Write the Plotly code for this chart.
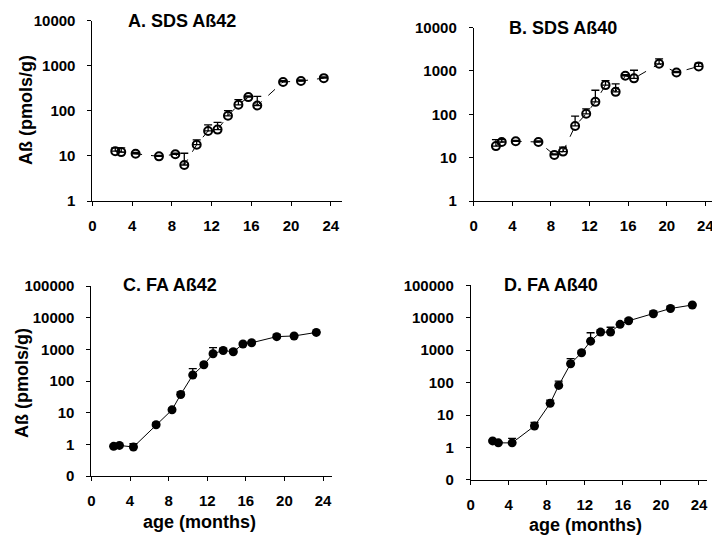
import plotly.graph_objects as go

ages = [2.3, 2.9, 4.35, 6.7, 8.35, 9.25, 10.5, 11.65, 12.6, 13.65, 14.7, 15.7, 16.6, 19.2, 21.0, 23.3]

sds42 = [12.8, 12.2, 11.2, 9.8, 10.9, 6.3, 17.8, 36, 38.5, 78, 137, 203, 132, 440, 461, 535]
sds42_hi = [15.1, 15.1, 12, 10.3, 11.5, 11.5, 22.8, 49, 56, 102, 178, 215, 210, 470, 490, 570]

sds40 = [18.5, 23, 23.9, 23, 11.6, 13.8, 54, 103, 194, 472, 330, 776, 676, 1466, 922, 1277]
sds40_hi = [26, 26, 25, 24.5, 12.2, 17.5, 91, 133, 359, 600, 505, 820, 1040, 1895, 980, 1515]

fa42 = [0.87, 0.93, 0.83, 4.2, 12.4, 38, 156, 331, 736, 931, 849, 1490, 1636, 2557, 2683, 3473]
fa42_hi = [0.95, 1.0, 1.05, 4.8, 14, 45, 250, 380, 1150, 1080, 1000, 1650, 1800, 3000, 2950, 3700]

fa40 = [1.6, 1.39, 1.39, 4.6, 23, 82, 382, 832, 1900, 3600, 3600, 6250, 8040, 13300, 19200, 24700]
fa40_hi = [1.7, 1.5, 1.9, 5.9, 29, 111, 550, 950, 3440, 4240, 5080, 6600, 9440, 16000, 22500, 26000]

x_ticks = [0, 4, 8, 12, 16, 20, 24]
top_yticks = [1, 10, 100, 1000, 10000]
top_ytext = ["1", "10", "100", "1000", "10000"]
bot_yticks = [0.1, 1, 10, 100, 1000, 10000, 100000]
bot_ytext = ["0", "1", "10", "100", "1000", "10000", "100000"]

titles = ["A. SDS Aß42", "B. SDS Aß40", "C. FA Aß42", "D. FA Aß40"]
ytitle = "Aß (pmols/g)"
xtitle = "age (months)"

FONT = "Liberation Sans, Arial, sans-serif"
OFF = 8  # default page margin of the html body
W, H = 720 - OFF, 548 - OFF

fig = go.Figure()

panels = [
    (sds42, sds42_hi, "x", "y", True),
    (sds40, sds40_hi, "x2", "y2", True),
    (fa42, fa42_hi, "x3", "y3", False),
    (fa40, fa40_hi, "x4", "y4", False),
]
for vals, hi, xa, ya, openm in panels:
    plus = [h - v for h, v in zip(hi, vals)]
    fig.add_trace(go.Scatter(
        x=ages, y=vals, xaxis=xa, yaxis=ya, mode="lines+markers",
        line=dict(color="black", width=1, dash="dash" if openm else "solid"),
        marker=dict(symbol="circle-open" if openm else "circle", size=8 if openm else 9,
                    color="black", line=dict(color="black", width=2 if openm else 0)),
        error_y=dict(type="data", symmetric=False, array=plus, arrayminus=[0] * len(vals),
                     color="black", thickness=1.3, width=4),
        showlegend=False, cliponaxis=False,
    ))

def fx(px):
    return (px - OFF) / W

def fy(py):
    return 1 - (py - OFF) / H

def dom_x(a, b):
    return [fx(a), fx(b)]

def dom_y(top, bottom):
    return [fy(bottom), fy(top)]

tickfont = dict(family=FONT, size=15, color="black", weight="bold")
axis_common = dict(showline=True, linecolor="black", linewidth=1, ticks="outside",
                   ticklen=4, tickcolor="black", showgrid=False, zeroline=False,
                   tickfont=tickfont, ticklabeloverflow="allow")

layout = dict(
    width=W, height=H, margin=dict(l=0, r=0, t=0, b=0),
    paper_bgcolor="white", plot_bgcolor="white",
    font=dict(family=FONT, color="black"),
)
layout["xaxis"] = dict(domain=dom_x(89, 340), range=[0, 25.1], tickvals=x_ticks,
                       anchor="y", ticklabelstandoff=7, **axis_common)
layout["yaxis"] = dict(domain=dom_y(12, 198), type="log", range=[0, 4], tickvals=top_yticks,
                       ticktext=top_ytext, anchor="x", ticklabelstandoff=9, **axis_common)
layout["xaxis2"] = dict(domain=dom_x(473, 718), range=[0, 25.2], tickvals=x_ticks,
                        anchor="y2", ticklabelstandoff=7, **axis_common)
layout["yaxis2"] = dict(domain=dom_y(19, 198), type="log", range=[0, 4], tickvals=top_yticks,
                        ticktext=top_ytext, anchor="x2", ticklabelstandoff=9, **axis_common)
layout["xaxis3"] = dict(domain=dom_x(88, 330), range=[0, 24.9], tickvals=x_ticks,
                        anchor="y3", ticklabelstandoff=7, **axis_common)
layout["yaxis3"] = dict(domain=dom_y(286, 482), type="log", range=[-1, 5], tickvals=bot_yticks,
                        ticktext=bot_ytext, anchor="x3", ticklabelstandoff=9, **axis_common)
layout["xaxis4"] = dict(domain=dom_x(470, 708), range=[0, 24.85], tickvals=x_ticks,
                        anchor="y4", ticklabelstandoff=7, **axis_common)
layout["yaxis4"] = dict(domain=dom_y(285, 486), type="log", range=[-1, 5], tickvals=bot_yticks,
                        ticktext=bot_ytext, anchor="x4", ticklabelstandoff=9, **axis_common)
fig.update_layout(**layout)

title_pos = [(179, 12), (563, 19), (167, 285), (551, 285)]
for t, (cx, cy) in zip(titles, title_pos):
    fig.add_annotation(text="<b>%s</b>" % t, x=fx(cx), y=fy(cy), xref="paper", yref="paper",
                       showarrow=False, xanchor="center", yanchor="middle",
                       font=dict(family=FONT, size=18, color="black"))

for cx, cy in [(22, 104), (18, 386)]:
    fig.add_annotation(text="<b>%s</b>" % ytitle, x=fx(cx), y=fy(cy), xref="paper", yref="paper",
                       showarrow=False, textangle=-90, xanchor="center", yanchor="middle",
                       font=dict(family=FONT, size=18, color="black"))

for cx, cy in [(197, 529), (586, 533)]:
    fig.add_annotation(text="<b>%s</b>" % xtitle, x=fx(cx), y=fy(cy), xref="paper", yref="paper",
                       showarrow=False, xanchor="center", yanchor="middle",
                       font=dict(family=FONT, size=18, color="black"))

fig.write_html("out.html")
